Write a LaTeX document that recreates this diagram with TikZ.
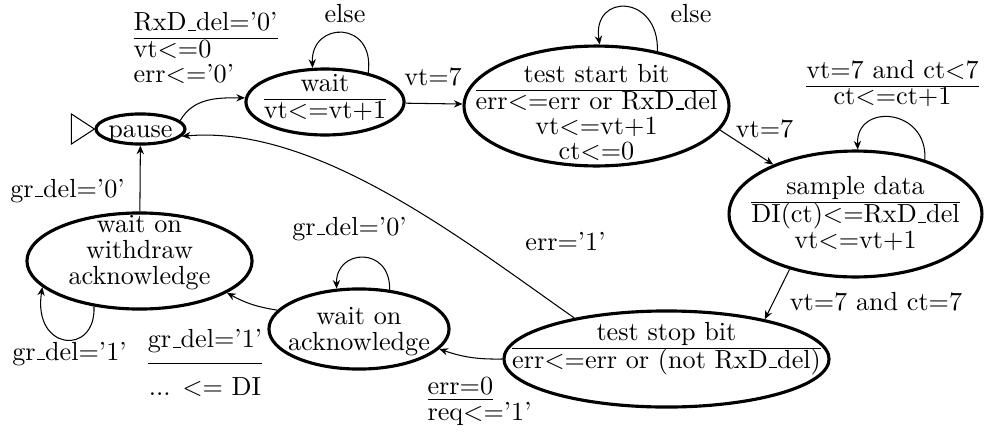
\documentclass[tikz,border=0pt]{standalone}
\usetikzlibrary{shapes.geometric, arrows.meta}

\renewcommand{\arraystretch}{0.8}
% state text: condition over a rule, actions below
\newcommand{\fsm}[3][c]{\begin{tabular}{@{}#1@{}}#2\\\hline #3\end{tabular}}
\newcommand{\stack}[1]{\begin{tabular}{@{}c@{}}#1\end{tabular}}
\newcommand{\us}{\leavevmode\kern.06em\vbox{\hrule width.3em}}

\begin{document}
\begin{tikzpicture}[x=0.382pt, y=-0.382pt, >={Stealth[length=3.3pt, width=2.8pt]},
    state/.style={ellipse, draw, line width=1.2pt, inner sep=0pt},
    lbl/.style={inner sep=0pt, anchor=base}]
    \useasboundingbox (0,0) rectangle (985,431);

    % --- 1. states ---
    \node[state, minimum width=34pt, minimum height=11.5pt,
          label={[yshift=-1.9pt]center:pause}] (pause) at (140.5,129) {};
    \node[state, minimum width=60.4pt, minimum height=25.2pt,
          label={[yshift=0.8pt]center:{\fsm{wait}{vt<=vt+1}}}] (wait) at (325,102) {};
    \node[state, minimum width=101.2pt, minimum height=45.8pt,
          label={[yshift=-3.8pt]center:{\fsm{test start bit}{err<=err or RxD\us del\\vt<=vt+1\\ct<=0}}}] (tstart) at (596.5,106) {};
    \node[state, minimum width=96.6pt, minimum height=48.1pt,
          label={[yshift=-0.8pt]center:{\fsm{sample data}{DI(ct)<=RxD\us del\\vt<=vt+1}}}] (sample) at (855.5,214) {};
    \node[state, minimum width=124.2pt, minimum height=36.7pt,
          label={[yshift=3.9pt]center:{\fsm{test stop bit}{err<=err or (not RxD\us del)}}}] (tstop) at (666.5,359) {};
    \node[state, minimum width=68.8pt, minimum height=30.6pt,
          label={[yshift=-1.3pt]center:{\stack{wait on\\acknowledge}}}] (ack) at (359,329) {};
    \node[state, minimum width=86pt, minimum height=36.7pt,
          label={[yshift=2.9pt]center:{\stack{wait on\\withdraw\\acknowledge}}}] (wdraw) at (139.5,261) {};

    % start marker
    \draw (pause.west) -- ++(-23,-15) -- ++(0,30) -- cycle;

    % --- 2. transitions ---
    \draw[->] (pause.12) to[out=60, in=180] (wait.177);
    \draw[->] (wait.34) .. controls +(7,-53) and +(-2,-47) .. (wait.110);
    \draw[->] (wait) -- (tstart);
    \draw[->] (tstart.42) .. controls +(2,-57) and +(-8,-52) .. (tstart.87);
    \draw[->] (tstart.-11) -- (sample.149);
    \draw[->] (sample.38) .. controls +(3,-52) and +(-2,-47) .. (sample.88);
    \draw[->] (sample.220) -- (tstop.22);
    \draw[->] (tstop.156) to[out=145, in=5, looseness=0.8] (pause.-10);
    \draw[->] (tstop.180) to[bend left=10] (ack.-14);
    \draw[->] (ack.52) .. controls +(1,-44) and +(-1,-40) .. (ack.119);
    \draw[->] (ack.167) to[bend left=10] (wdraw.-20);
    \draw[->] (wdraw.225) .. controls +(2,50) and +(-10,64) .. (wdraw.195);
    \draw[->] (wdraw) -- (pause);

    % --- 3. transition labels ---
    \node[inner sep=0pt, anchor=west] (l_reset) at (133,51.5)
        {\fsm[l]{RxD\us del='0'}{vt<=0\\err<='0'}};
    \node[lbl] (l_else1) at (345,22) {else};
    \node[lbl] (l_vt1) at (433,85) {vt=7};
    \node[lbl] (l_else2) at (691,22) {else};
    \node[lbl] (l_vt2) at (764.5,137) {vt=7};
    \node[inner sep=0pt] (l_ctlt) at (892.5,86) {\fsm{vt=7 and ct<7}{ct<=ct+1}};
    \node[lbl] (l_cteq) at (876,310) {vt=7 and ct=7};
    \node[lbl] (l_err1) at (565.5,250) {err='1'};
    \node[inner sep=0pt, anchor=west] (l_req) at (427,402.8)
        {\begin{tabular}{@{}l@{}}\underline{err=0}\\req<='1'\end{tabular}};
    \node[lbl] (l_gr0a) at (349.5,235) {gr\us del='0'};
    \node[inner sep=0pt] (l_grant) at (205,366.6)
        {\begin{tabular}{@{}c@{}}gr\us del='1'\\[3pt]\hline\rule{0pt}{12pt}... <= DI\end{tabular}};
    \node[lbl] (l_gr1) at (69.5,360) {gr\us del='1'};
    \node[lbl] (l_gr0b) at (67.5,197) {gr\us del='0'};

\end{tikzpicture}
\end{document}
